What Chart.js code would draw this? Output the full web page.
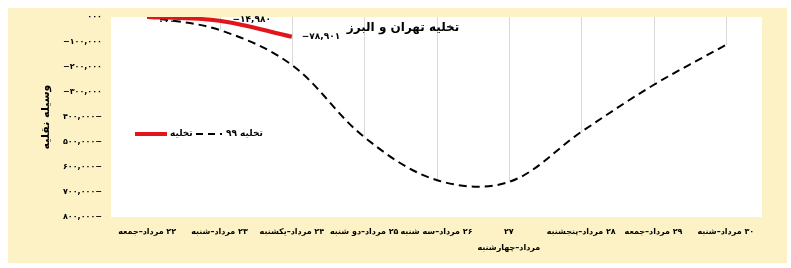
<!DOCTYPE html>
<html lang="fa">
<head>
<meta charset="UTF-8">
<title>تخلیه تهران و البرز</title>
<script src="https://cdn.jsdelivr.net/npm/chart.js"></script>
<style>
  body { margin: 0; background: #fff; }
</style>
</head>
<body>
<canvas id="myChart" width="791" height="268"></canvas>
<script>
// روزها (محور افقی)
var days = [
  '۲۲ مرداد–جمعه',
  '۲۳ مرداد–شنبه',
  '۲۴ مرداد–یکشنبه',
  '۲۵ مرداد–دو شنبه',
  '۲۶ مرداد–سه شنبه',
  ['۲۷', 'مرداد–چهارشنبه'],
  '۲۸ مرداد–پنجشنبه',
  '۲۹ مرداد–جمعه',
  '۳۰ مرداد–شنبه'
];
// تخلیه (امسال)
var takhlie = [0, -14980, -78901, null, null, null, null, null, null];
// تخلیه ۹۹
var takhlie99 = [0, -52000, -192000, -480000, -652000, -660000, -460000, -272000, -112000];
// برچسب‌های محور عمودی
var yTickLabels = ['۰۰۰', '−۱۰۰,۰۰۰', '−۲۰۰,۰۰۰', '−۳۰۰,۰۰۰', '۴۰۰,۰۰۰−', '۵۰۰,۰۰۰−', '۶۰۰,۰۰۰−', '۷۰۰,۰۰۰−', '۸۰۰,۰۰۰−'];

var FONT = "'DejaVu Sans'";
Chart.defaults.font.family = FONT;
Chart.defaults.color = '#000';

function faDigits(s) {
  return s.replace(/[0-9]/g, function (d) { return '۰۱۲۳۴۵۶۷۸۹'[d]; });
}
function faNum(v) {
  if (v === 0) return '۰۰۰';
  var s = faDigits(Math.abs(v).toLocaleString('en-US'));
  return (v < 0 ? '−' : '') + s;
}

// draws the words of a label right to left, starting at x (align 'left') or centred on x
function drawRtl(ctx, s, x, y, align) {
  var parts = s.split(/( |–)/).filter(function (t) { return t !== ''; }).reverse();
  var w = 0;
  parts.forEach(function (t) { w += ctx.measureText(t).width; });
  if (align === 'center') x = x - w / 2;
  ctx.textAlign = 'left';
  parts.forEach(function (t) {
    if (t !== ' ') ctx.fillText(t, x, y);
    x += ctx.measureText(t).width;
  });
}

var bgPlugin = {
  id: 'bg',
  beforeDraw: function (chart) {
    var ctx = chart.ctx, a = chart.chartArea;
    ctx.save();
    ctx.fillStyle = '#ffffff';
    ctx.fillRect(0, 0, chart.width, chart.height);
    ctx.fillStyle = '#fdf1c6';
    ctx.fillRect(8, 8, 779, 255);
    ctx.fillStyle = '#ffffff';
    ctx.fillRect(a.left, a.top, a.right - a.left, a.bottom - a.top);
    ctx.restore();
  }
};

// drop lines from the axis (0) down to the 99 series
var dropLines = {
  id: 'dropLines',
  beforeDatasetsDraw: function (chart) {
    var ctx = chart.ctx;
    var y0 = chart.scales.y.getPixelForValue(0);
    ctx.save();
    ctx.strokeStyle = '#d9d9d9';
    ctx.lineWidth = 1;
    chart.getDatasetMeta(1).data.forEach(function (p) {
      var x = Math.round(p.x) + 0.5;
      ctx.beginPath();
      ctx.moveTo(x, y0);
      ctx.lineTo(x, p.y);
      ctx.stroke();
    });
    ctx.restore();
  }
};

var labelOffsets = [[11, 5], [13, -1], [10, 0]];
var extras = {
  id: 'extras',
  afterDatasetsDraw: function (chart) {
    var ctx = chart.ctx;
    ctx.save();
    ctx.fillStyle = '#000';
    ctx.textBaseline = 'middle';

    // data labels of the red series
    ctx.font = 'bold 9px ' + FONT;
    ctx.textAlign = 'left';
    chart.getDatasetMeta(0).data.forEach(function (p, i) {
      if (takhlie[i] === null) return;
      var o = labelOffsets[i] || [10, 0];
      ctx.fillText(faNum(takhlie[i]), p.x + o[0], p.y + o[1]);
    });

    // category labels
    var xs = chart.scales.x;
    ctx.font = 'bold 8px ' + FONT;
    chart.data.labels.forEach(function (lab, i) {
      var cx = xs.getPixelForValue(i);
      var lines = Array.isArray(lab) ? lab : [lab];
      lines.forEach(function (l, k) {
        drawRtl(ctx, l, cx, xs.top + 15 + k * 16, 'center');
      });
    });

    // title
    ctx.font = 'bold 12px ' + FONT;
    ctx.textAlign = 'center';
    ctx.fillText('تخلیه تهران و البرز', 403, 28);

    // legend
    ctx.lineCap = 'butt';
    ctx.strokeStyle = chart.data.datasets[0].borderColor;
    ctx.lineWidth = 4;
    ctx.beginPath(); ctx.moveTo(135, 134); ctx.lineTo(167, 134); ctx.stroke();
    ctx.strokeStyle = '#000';
    ctx.lineWidth = 2;
    ctx.setLineDash([7, 5]);
    ctx.beginPath(); ctx.moveTo(196, 134); ctx.lineTo(222, 134); ctx.stroke();
    ctx.setLineDash([]);
    ctx.font = 'bold 9px ' + FONT;
    ctx.textAlign = 'left';
    ctx.fillText(chart.data.datasets[0].label, 170, 134);
    drawRtl(ctx, chart.data.datasets[1].label, 226, 134, 'left');
    ctx.restore();
  }
};

var config = {
  type: 'line',
  data: {
    labels: days,
    datasets: [
      {
        label: 'تخلیه',
        data: takhlie,
        borderColor: '#e2151b',
        borderWidth: 4,
        pointRadius: 0,
        tension: 0.35
      },
      {
        label: 'تخلیه ۹۹',
        data: takhlie99,
        borderColor: '#000',
        borderWidth: 2,
        borderDash: [8, 5],
        pointRadius: 0,
        tension: 0.35
      }
    ]
  },
  options: {
    responsive: false,
    animation: false,
    layout: { padding: { top: 17, right: 29, left: 0, bottom: 0 } },
    plugins: { legend: { display: false }, tooltip: { enabled: false } },
    scales: {
      x: {
        offset: true,
        grid: { display: false, drawTicks: false },
        border: { display: false },
        ticks: { display: false, autoSkip: false, maxRotation: 0 },
        afterFit: function (s) { s.height = 51; }
      },
      y: {
        min: -800000,
        max: 0,
        grid: { display: false, drawTicks: false },
        border: { display: false },
        ticks: {
          stepSize: 100000,
          padding: 9,
          font: { size: 8, weight: 'bold' },
          callback: function (v) { return yTickLabels[Math.round(-v / 100000)]; }
        },
        title: {
          display: true,
          text: 'وسیله نقلیه',
          font: { size: 11, weight: 'bold' },
          padding: { top: 40, bottom: 0 }
        },
        afterFit: function (s) { s.width = 111; }
      }
    }
  },
  plugins: [bgPlugin, dropLines, extras]
};

var myChart = new Chart(document.getElementById('myChart'), config);
</script>
</body>
</html>
